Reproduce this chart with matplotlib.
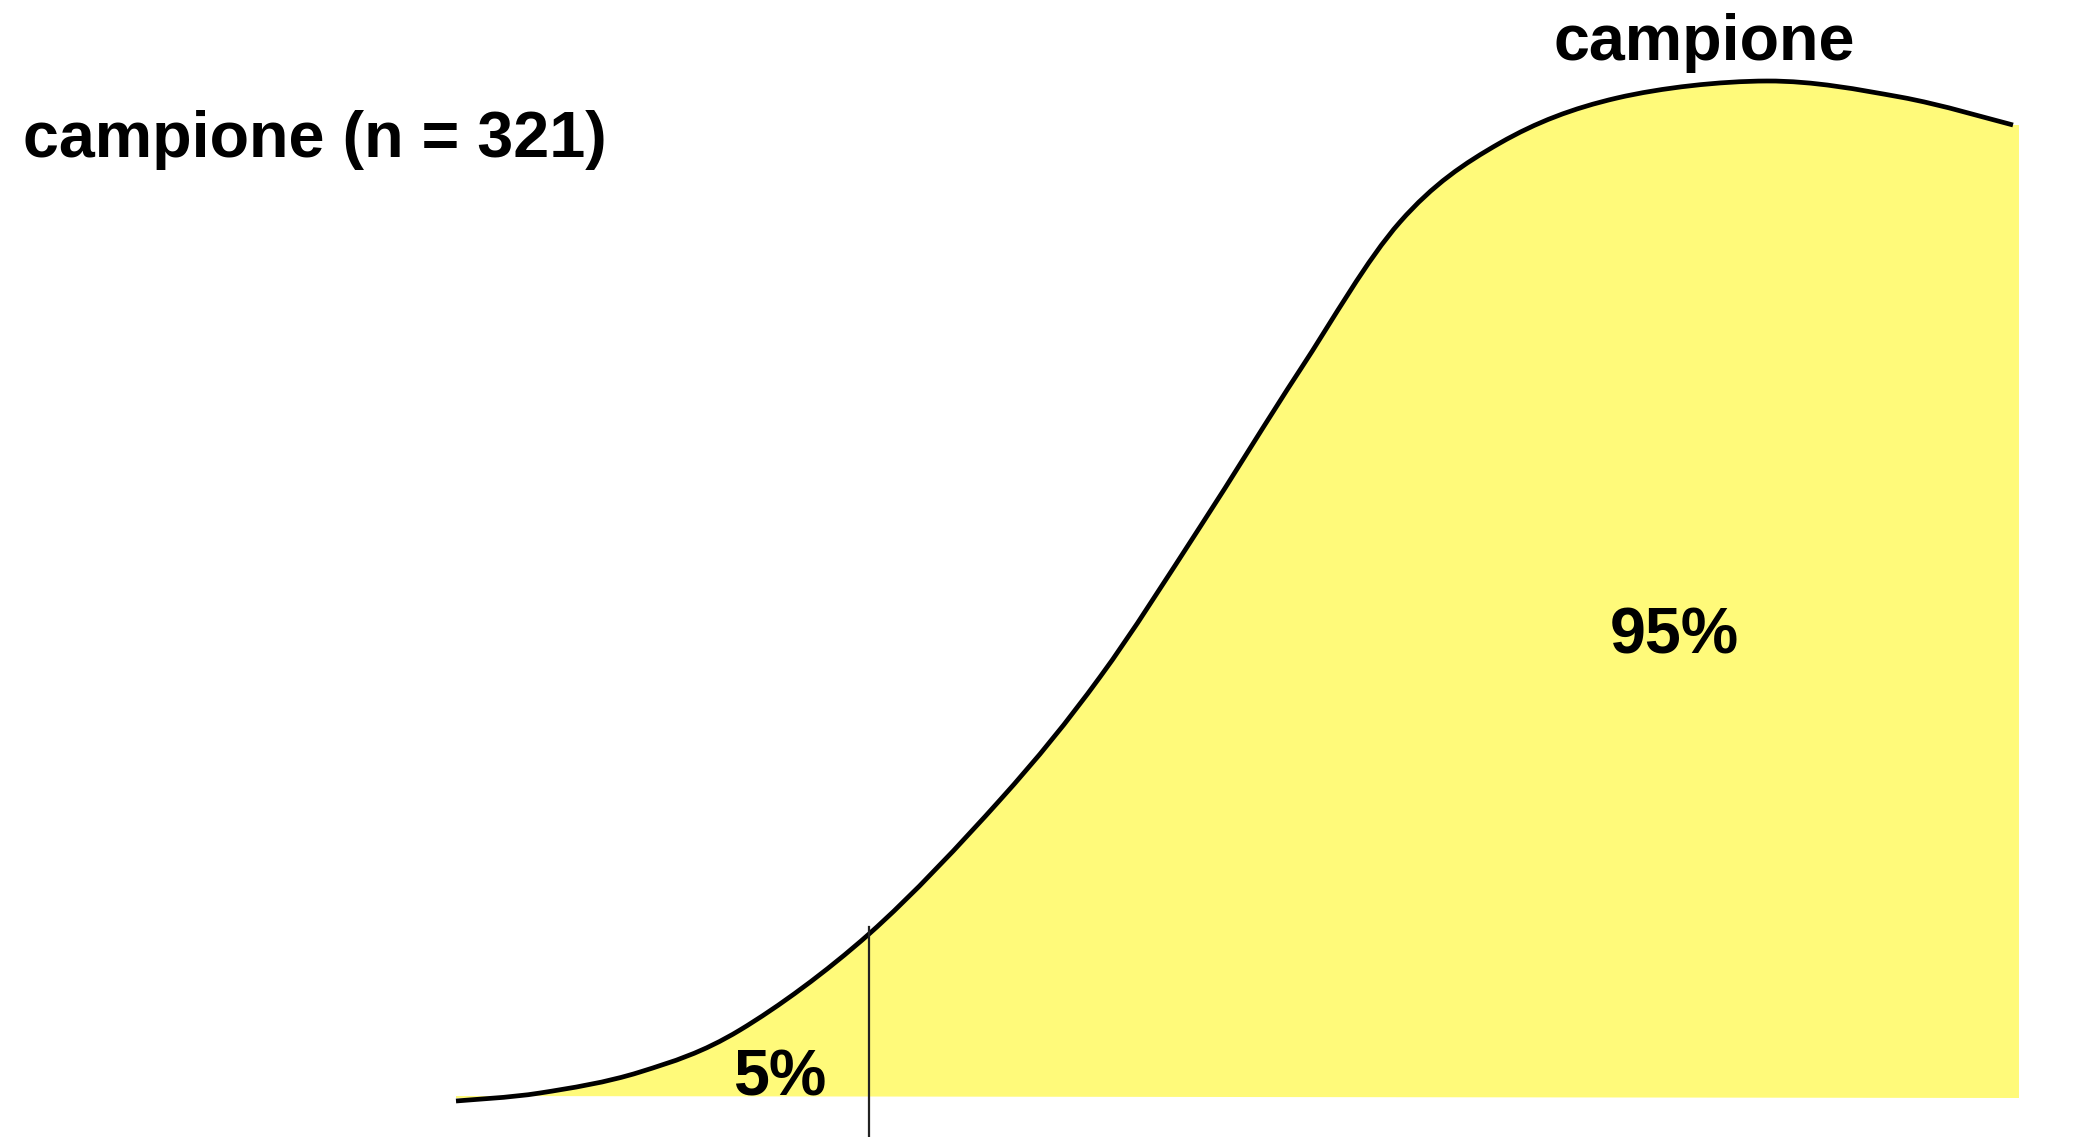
import numpy as np
import matplotlib.pyplot as plt
from matplotlib.path import Path
from matplotlib.patches import PathPatch, Rectangle

# curve (x position, height above the bottom edge)
curve_x = [456, 540, 640, 740, 869, 1000, 1100, 1200, 1300, 1400, 1500, 1617, 1767, 1900, 2013]
curve_y = [36, 44, 65, 107, 203, 337, 460, 610, 767, 915, 994, 1039, 1056, 1040, 1012]
baseline = 41
cutoff = 869
cutoff_top = 210

labels = ['campione (n = 321)', 'campione', '95%', '5%']


def smooth_path(xs, ys):
    # catmull-rom through the read points, handed to matplotlib as bezier segments
    p = np.column_stack([xs, ys]).astype(float)
    ext = np.vstack([p[0], p, p[-1]])
    verts = [p[0]]
    codes = [Path.MOVETO]
    for i in range(len(p) - 1):
        p0, p1, p2, p3 = ext[i], ext[i + 1], ext[i + 2], ext[i + 3]
        verts += [p1 + (p2 - p0) / 6, p2 - (p3 - p1) / 6, p2]
        codes += [Path.CURVE4] * 3
    return verts, codes


fig = plt.figure(figsize=(20.83, 11.37), dpi=100)
ax = fig.add_axes([0, 0, 1, 1])
ax.set_xlim(0, 2083)
ax.set_ylim(0, 1137)
ax.axis('off')

verts, codes = smooth_path(curve_x, curve_y)

# yellow area between the curve and the baseline, cut off below the baseline
fill_verts = verts + [(curve_x[-1] + 6, curve_y[-1]), (curve_x[-1] + 6, baseline - 2),
                      (curve_x[0], baseline), (curve_x[0], baseline)]
fill_codes = codes + [Path.LINETO, Path.LINETO, Path.LINETO, Path.CLOSEPOLY]
area = PathPatch(Path(fill_verts, fill_codes), facecolor='#FFFA7A', edgecolor='none')
ax.add_patch(area)
clip = Rectangle((0, baseline - 2), 2083, 1137, transform=ax.transData)
area.set_clip_path(clip)

ax.add_patch(PathPatch(Path(verts, codes), facecolor='none', edgecolor='black',
                       lw=3.4, capstyle='butt', joinstyle='round'))
ax.plot([cutoff, cutoff], [0, cutoff_top], color='#222222', lw=1.6)

font = dict(family=['Liberation Sans', 'DejaVu Sans'], weight='bold', fontsize=46.5)
ax.text(23, 1137 - 157, labels[0], ha='left', va='baseline', **font)
ax.text(1554, 1137 - 60, labels[1], ha='left', va='baseline', **font)
ax.text(1610, 1137 - 654, labels[2], ha='left', va='baseline', **font)
ax.text(733, 1137 - 1096, labels[3], ha='left', va='baseline', **font)

fig.savefig('out.png', dpi=100)
